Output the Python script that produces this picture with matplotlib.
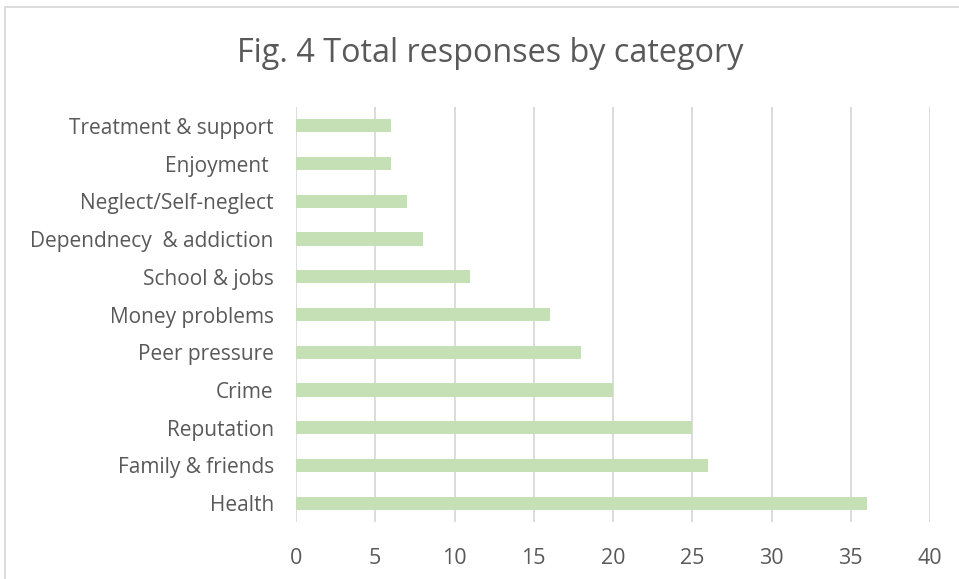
import matplotlib
matplotlib.use("Agg")
import matplotlib.pyplot as plt
from matplotlib.patches import Rectangle

categories = ["Health", "Family & friends", "Reputation", "Crime", "Peer pressure",
              "Money problems", "School & jobs", "Dependnecy  & addiction",
              "Neglect/Self-neglect", "Enjoyment ", "Treatment & support"]
values = [36, 26, 25, 20, 18, 16, 11, 8, 7, 6, 6]
xticks = [0, 5, 10, 15, 20, 25, 30, 35, 40]

W, H = 959, 579
fig = plt.figure(figsize=(W / 100, H / 100), dpi=100)
plt.rcParams['font.family'] = ['Open Sans', 'DejaVu Sans']
txt = '#595959'

# chart border
fig.patches.append(Rectangle((5 / W, 0 - 0.01), 1.0, 1 - 7 / H + 0.01,
                             transform=fig.transFigure, fill=False,
                             edgecolor='#D9D9D9', linewidth=1.3))

left, right, top, bottom = 296, 930, 107, 522
ax = fig.add_axes([left / W, 1 - bottom / H, (right - left) / W, (bottom - top) / H])
y = list(range(len(categories)))
ax.barh(y, values, height=0.35, color='#C5E0B4', zorder=3)
ax.set_xlim(0, 40)
ax.set_ylim(-0.5, len(categories) - 0.5)
ax.set_xticks(xticks)
ax.set_xticklabels([str(t) for t in xticks])
ax.set_yticks(y)
ax.set_yticklabels(categories)
ax.grid(axis='x', color='#D9D9D9', linewidth=1.3, zorder=0)
for s in ax.spines.values():
    s.set_visible(False)
ax.tick_params(axis='both', length=0, colors=txt)
ax.tick_params(axis='x', pad=19, labelsize=15.5)
ax.tick_params(axis='y', pad=16, labelsize=15)

fig.text(490 / W, 1 - 53 / H, "Fig. 4 Total responses by category",
         ha='center', va='center', fontsize=23.3, color=txt)

fig.savefig("out.png", dpi=100, facecolor='white')
